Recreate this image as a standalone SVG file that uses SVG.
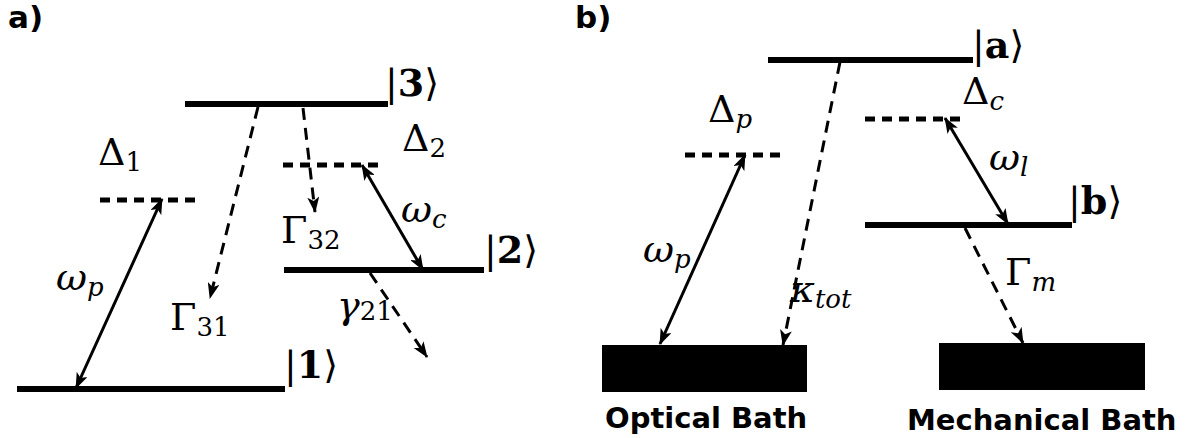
<svg xmlns="http://www.w3.org/2000/svg" width="1188" height="438" viewBox="0 0 1188 438">
<style>
.lvl{stroke:#000;stroke-width:6;fill:none}
.dlvl{stroke:#000;stroke-width:5;stroke-dasharray:10 7;fill:none}
.arr{stroke:#000;stroke-width:3;fill:none}
.darr{stroke:#000;stroke-width:3;stroke-dasharray:12 8;fill:none}
.m{font-family:"DejaVu Serif","Liberation Serif",serif;font-size:38px;fill:#000}
.sub{font-size:26px}
.it{font-style:italic}
.ket{font-family:"DejaVu Serif","Liberation Serif",serif;font-size:38px;fill:#000}
.b{font-weight:bold}
.lab{font-family:"DejaVu Sans",sans-serif;font-weight:bold;font-size:29px;fill:#000}
</style>
<defs>
<marker id="ah" viewBox="0 0 16 12" refX="15" refY="6" markerWidth="16" markerHeight="12" markerUnits="userSpaceOnUse" orient="auto-start-reverse">
<path d="M0,0 L16,6 L0,12 L4,6 z" fill="#000"/>
</marker>
</defs>
<g id="panel-labels">
<text class="lab" x="8" y="28" style="font-size:31px">a)</text>
<text class="lab" x="575" y="28" style="font-size:31px">b)</text>
</g>
<g id="level-1"><line class="lvl" x1="17" y1="389" x2="285" y2="389"/><text class="ket" x="284" y="378">|<tspan class="b">1</tspan>⟩</text></g>
<g id="level-3"><line class="lvl" x1="185" y1="104" x2="388" y2="104"/><text class="ket" x="385" y="96">|<tspan class="b">3</tspan>⟩</text></g>
<g id="level-2"><line class="lvl" x1="284" y1="270" x2="484" y2="270"/><text class="ket" x="484" y="263">|<tspan class="b">2</tspan>⟩</text></g>
<g id="virtual-1"><line class="dlvl" x1="100" y1="200" x2="200" y2="200"/><text class="m" x="98" y="165">Δ<tspan class="sub" dy="6">1</tspan></text></g>
<g id="virtual-2"><line class="dlvl" x1="283" y1="165" x2="381" y2="165"/><text class="m" x="402" y="151">Δ<tspan class="sub" dy="6">2</tspan></text></g>
<g id="level-a"><line class="lvl" x1="768" y1="60" x2="973" y2="60"/><text class="ket" x="972" y="58">|<tspan class="b">a</tspan>⟩</text></g>
<g id="virtual-p"><line class="dlvl" x1="685" y1="155" x2="785" y2="155"/><text class="m" x="708" y="122">Δ<tspan class="sub it" dy="6">p</tspan></text></g>
<g id="virtual-c"><line class="dlvl" x1="865" y1="119" x2="965" y2="119"/><text class="m" x="962" y="104">Δ<tspan class="sub it" dy="6">c</tspan></text></g>
<g id="level-b"><line class="lvl" x1="865" y1="225" x2="1072" y2="225"/><text class="ket" x="1068" y="214">|<tspan class="b">b</tspan>⟩</text></g>
<g id="optical-bath"><rect x="602" y="345" width="205" height="47" fill="#000"/><text class="lab" x="605" y="428">Optical Bath</text></g>
<g id="mechanical-bath"><rect x="939" y="343" width="206" height="47" fill="#000"/><text class="lab" x="907" y="430">Mechanical Bath</text></g>
<g id="connectors">
<line class="arr" x1="76" y1="388" x2="162" y2="199" marker-start="url(#ah)" marker-end="url(#ah)"/>
<line class="darr" x1="258" y1="107" x2="210" y2="298" marker-end="url(#ah)"/>
<line class="darr" x1="303" y1="108" x2="315" y2="212" marker-end="url(#ah)"/>
<line class="arr" x1="362" y1="165" x2="423" y2="270" marker-start="url(#ah)" marker-end="url(#ah)"/>
<line class="darr" x1="370" y1="273" x2="427" y2="357" marker-end="url(#ah)"/>
<line class="arr" x1="660" y1="344" x2="745" y2="155" marker-start="url(#ah)" marker-end="url(#ah)"/>
<line class="darr" x1="840" y1="62" x2="783" y2="345" marker-end="url(#ah)"/>
<line class="arr" x1="945" y1="118" x2="1008" y2="224" marker-start="url(#ah)" marker-end="url(#ah)"/>
<line class="darr" x1="965" y1="228" x2="1023" y2="343" marker-end="url(#ah)"/>
<text class="m it" x="56" y="290">ω<tspan class="sub" dy="6">p</tspan></text>
<text class="m" x="170" y="330">Γ<tspan class="sub" dy="6">31</tspan></text>
<text class="m" x="281" y="243">Γ<tspan class="sub" dy="6">32</tspan></text>
<text class="m it" x="401" y="222">ω<tspan class="sub" dy="6">c</tspan></text>
<text class="m it" x="337" y="318">γ<tspan class="sub" style="font-style:normal" dy="2">21</tspan></text>
<text class="m it" x="643" y="262">ω<tspan class="sub" dy="6">p</tspan></text>
<text class="m it" x="790" y="302">κ<tspan class="sub" dy="6">tot</tspan></text>
<text class="m it" x="989" y="170">ω<tspan class="sub" dy="6">l</tspan></text>
<text class="m" x="1005" y="285">Γ<tspan class="sub it" dy="6">m</tspan></text>
</g>
</svg>
